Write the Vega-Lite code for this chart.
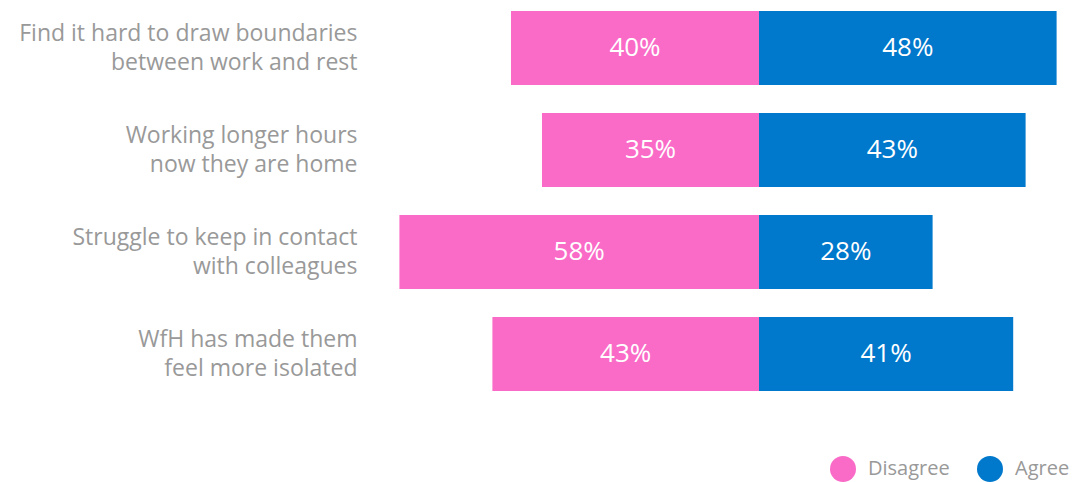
{
  "$schema": "https://vega.github.io/schema/vega-lite/v6.json",
  "width": 682,
  "height": 402,
  "autosize": "none",
  "padding": {"left": 387, "top": 0, "right": 3, "bottom": 80},
  "background": "white",
  "config": {"view": {"stroke": null}, "font": "Open Sans"},
  "data": {
    "values": [
      {"item": "Find it hard to draw boundaries\nbetween work and rest", "response": "Disagree", "value": -40},
      {"item": "Find it hard to draw boundaries\nbetween work and rest", "response": "Agree", "value": 48},
      {"item": "Working longer hours\nnow they are home", "response": "Disagree", "value": -35},
      {"item": "Working longer hours\nnow they are home", "response": "Agree", "value": 43},
      {"item": "Struggle to keep in contact\nwith colleagues", "response": "Disagree", "value": -58},
      {"item": "Struggle to keep in contact\nwith colleagues", "response": "Agree", "value": 28},
      {"item": "WfH has made them\nfeel more isolated", "response": "Disagree", "value": -43},
      {"item": "WfH has made them\nfeel more isolated", "response": "Agree", "value": 41}
    ]
  },
  "encoding": {
    "y": {
      "field": "item",
      "type": "nominal",
      "sort": null,
      "scale": {"paddingInner": 0.275, "paddingOuter": 0.108},
      "axis": {
        "title": null,
        "domain": false,
        "ticks": false,
        "labelExpr": "split(datum.value, '\\n')",
        "labelFontSize": 23,
        "labelLineHeight": 29,
        "labelOffset": -14,
        "labelColor": "#999999",
        "labelPadding": 30,
        "labelLimit": 0
      }
    }
  },
  "layer": [
    {
      "mark": {"type": "bar"},
      "encoding": {
        "x": {"field": "value", "type": "quantitative", "scale": {"domain": [-60, 50], "nice": false, "zero": false}, "axis": null},
        "x2": {"datum": 0},
        "color": {
          "field": "response",
          "type": "nominal",
          "scale": {"domain": ["Disagree", "Agree"], "range": ["#FA6BC8", "#0078CC"]},
          "legend": {
            "title": null,
            "orient": "none",
            "direction": "horizontal",
            "legendX": 443,
            "legendY": 456,
            "symbolType": "circle",
            "symbolSize": 676,
            "symbolStrokeWidth": 0,
            "symbolOpacity": 1,
            "labelFontSize": 20,
            "labelColor": "#999999",
            "labelOffset": 12,
            "columnPadding": 27
          }
        }
      }
    },
    {
      "mark": {"type": "text", "color": "white", "fontSize": 26, "align": "center", "baseline": "middle", "text": {"expr": "abs(datum.value) + '%'"}},
      "encoding": {
        "x": {"field": "value", "type": "quantitative", "scale": {"domain": [-120, 100], "nice": false, "zero": false}, "axis": null}
      }
    }
  ],
  "resolve": {"scale": {"x": "independent"}}
}
